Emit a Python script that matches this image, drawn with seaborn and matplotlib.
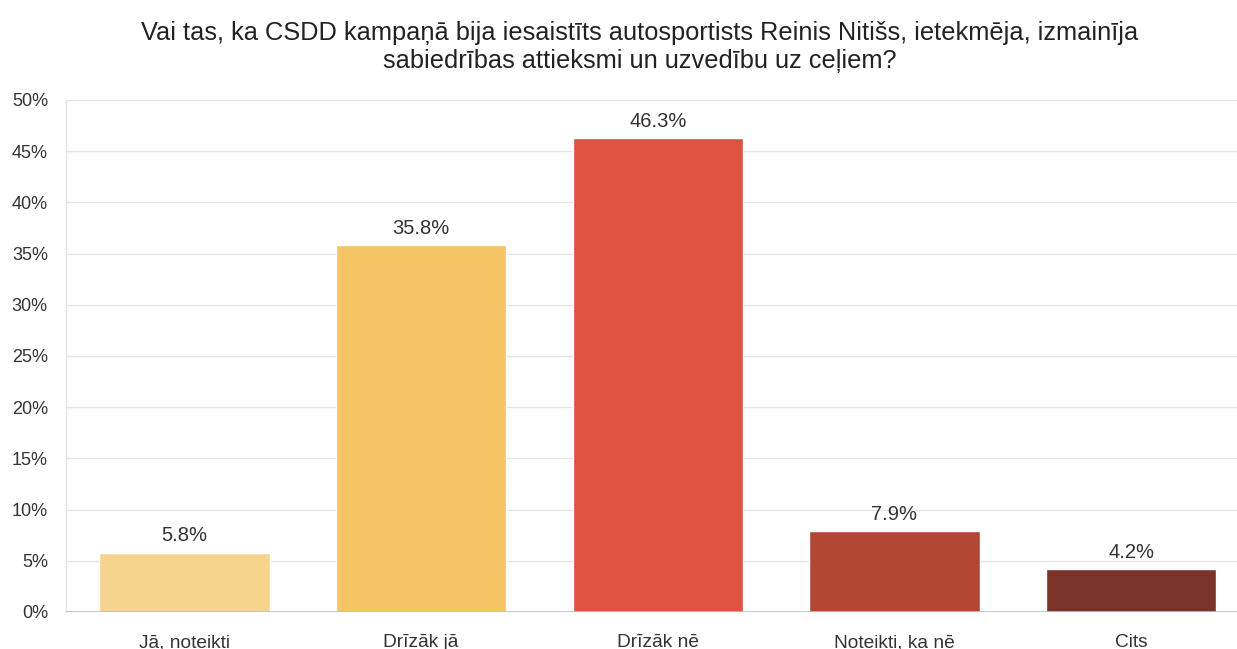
import matplotlib
matplotlib.use("Agg")
import matplotlib.pyplot as plt
from matplotlib.ticker import FuncFormatter, MultipleLocator
import seaborn as sns
import pandas as pd

categories = ["Jā, noteikti", "Drīzāk jā", "Drīzāk nē", "Noteikti, ka nē", "Cits"]
values = [5.8, 35.8, 46.3, 7.9, 4.2]
colors = ["#F7D48E", "#F5C465", "#DD5340", "#B44634", "#7A3329"]
title = ("Vai tas, ka CSDD kampaņā bija iesaistīts autosportists Reinis Nitišs, ietekmēja, izmainīja\n"
         "sabiedrības attieksmi un uzvedību uz ceļiem?")

sns.set_theme(style="white")
plt.rcParams["font.family"] = ["Liberation Sans", "DejaVu Sans"]

df = pd.DataFrame({"category": categories, "value": values})

fig = plt.figure(figsize=(12.37, 6.49), dpi=100)
ax = fig.add_axes([66 / 1237, 1 - 612 / 649, 1 - 66 / 1237, (612 - 100) / 649])

sns.barplot(data=df, x="category", y="value", hue="category", palette=colors,
            legend=False, width=0.72, saturation=1, ax=ax, zorder=3)

for i, v in enumerate(values):
    ax.text(i, v + 0.7, f"{v}%", ha="center", va="bottom", fontsize=14.5, color="#333333")

ax.set_ylim(0, 50)
ax.set_xlim(-0.5, 4.447)
ax.yaxis.set_major_locator(MultipleLocator(5))
ax.yaxis.set_major_formatter(FuncFormatter(lambda y, _: f"{int(y)}%"))
ax.grid(axis="y", color="#E4E4E4", linewidth=1, zorder=0)
ax.axhline(0, color="#BDBDBD", linewidth=1.2, zorder=4)
for s in ["top", "right", "bottom"]:
    ax.spines[s].set_visible(False)
ax.spines["left"].set_color("#E4E4E4")
ax.spines["left"].set_linewidth(1)
ax.tick_params(axis="y", length=0, pad=13, labelsize=13, labelcolor="#333333")
ax.tick_params(axis="x", length=0, pad=16, labelsize=13.8, labelcolor="#333333")
ax.set_xlabel("")
ax.set_ylabel("")

fig.text(0.517, 0.968, title, ha="center", va="top", fontsize=18.3, color="#222222", linespacing=1.2)

fig.savefig("out.png", dpi=100)
